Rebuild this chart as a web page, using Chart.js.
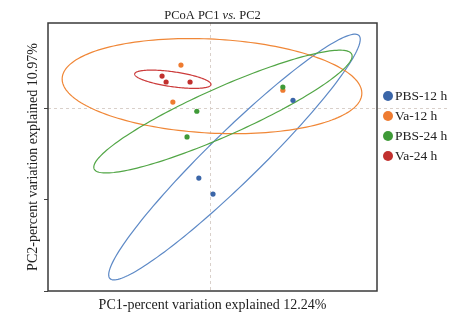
<!DOCTYPE html>
<html>
<head>
<meta charset="utf-8">
<script src="https://cdn.jsdelivr.net/npm/chart.js@4/dist/chart.umd.min.js"></script>
<style>
  body { margin: 0; background: #fff; }
  #wrap { position: relative; width: 455px; height: 319px; }
  #legend { position: absolute; left: 383px; top: 88px; font: 13.5px "Liberation Serif", serif; color: #222; }
  #legend div { height: 20px; line-height: 16px; white-space: nowrap; }
  #legend span.dot { display: inline-block; width: 10px; height: 10px; border-radius: 50%; vertical-align: -1px; margin-right: 2px; }
</style>
</head>
<body>
<div id="wrap">
  <canvas id="pcoa" width="455" height="319"></canvas>
  <div id="legend"></div>
</div>
<script>
// groups and colours
const groups = ["PBS-12 h", "Va-12 h", "PBS-24 h", "Va-24 h"];
const dotColors = ["#3b66a8", "#ee7b30", "#3f9a38", "#c1302e"];
const ringColors = ["#5d89c6", "#f08737", "#52a646", "#cc3b3b"];

// sample scores (PC1, PC2)
const pbs12X = [0.246, -0.033, 0.009];
const pbs12Y = [0.017, -0.153, -0.188];
const va12X = [-0.086, -0.110, 0.216];
const va12Y = [0.094, 0.013, 0.039];
const pbs24X = [-0.039, -0.068, 0.216];
const pbs24Y = [-0.007, -0.063, 0.046];
const va24X = [-0.142, -0.130, -0.059];
const va24Y = [0.070, 0.057, 0.057];

// confidence ellipses: centre and two half-axis vectors, in PC units
const ellipseCX = [0.0726, 0.006, 0.0385, -0.110];
const ellipseCY = [-0.1071, 0.048, -0.0077, 0.063];
const ellipseUX = [0.369, 0.444, 0.3817, 0.113];
const ellipseUY = [0.2657, -0.0172, 0.1254, -0.0117];
const ellipseVX = [-0.0528, 0.0073, -0.0289, 0.0031];
const ellipseVY = [0.0399, 0.1026, 0.0479, 0.0162];

const yTicks = [-0.4, -0.2, 0];

const xsAll = [pbs12X, va12X, pbs24X, va24X];
const ysAll = [pbs12Y, va12Y, pbs24Y, va24Y];

const datasets = groups.map((g, i) => ({
  label: g,
  data: xsAll[i].map((x, j) => ({ x: x, y: ysAll[i][j] })),
  backgroundColor: dotColors[i],
  borderWidth: 0,
  pointRadius: 2.6,
  pointHoverRadius: 2.6,
  order: i === 2 ? -1 : i
}));

const serif = '"Liberation Serif", "Times New Roman", serif';

const decor = {
  id: "decor",
  beforeDatasetsDraw(chart) {
    const { ctx, chartArea: a, scales } = chart;
    const xs = scales.x, ys = scales.y;
    ctx.save();
    // dashed zero lines
    ctx.strokeStyle = "#d9d0ca";
    ctx.lineWidth = 1;
    ctx.setLineDash([3, 3]);
    const x0 = Math.round(xs.getPixelForValue(0)) + 0.5;
    const y0 = Math.round(ys.getPixelForValue(0)) + 0.5;
    ctx.beginPath();
    ctx.moveTo(x0, a.top); ctx.lineTo(x0, a.bottom);
    ctx.moveTo(a.left, y0); ctx.lineTo(447, y0);
    ctx.stroke();
    ctx.setLineDash([]);
    // ellipses
    ctx.beginPath();
    ctx.rect(a.left, a.top, a.right - a.left, a.bottom - a.top);
    ctx.clip();
    ctx.lineWidth = 1.2;
    for (let i = 0; i < groups.length; i++) {
      ctx.strokeStyle = ringColors[i];
      ctx.beginPath();
      for (let k = 0; k <= 180; k++) {
        const t = k / 180 * Math.PI * 2;
        const vx = ellipseCX[i] + ellipseUX[i] * Math.cos(t) + ellipseVX[i] * Math.sin(t);
        const vy = ellipseCY[i] + ellipseUY[i] * Math.cos(t) + ellipseVY[i] * Math.sin(t);
        const px = xs.getPixelForValue(vx), py = ys.getPixelForValue(vy);
        if (k === 0) ctx.moveTo(px, py); else ctx.lineTo(px, py);
      }
      ctx.closePath();
      ctx.stroke();
    }
    ctx.restore();
  },
  afterDraw(chart) {
    const { ctx, chartArea: a } = chart;
    ctx.save();
    ctx.strokeStyle = "#3a3a3a";
    ctx.lineWidth = 1.5;
    ctx.strokeRect(a.left, a.top, a.right - a.left, a.bottom - a.top);
    // title with italic "vs."
    const parts = [["PCoA PC1 ", ""], ["vs.", "italic "], [" PC2", ""]];
    let total = 0;
    parts.forEach(p => { ctx.font = p[1] + "12.5px " + serif; total += ctx.measureText(p[0]).width; });
    let x = (a.left + a.right) / 2 - total / 2;
    ctx.fillStyle = "#222";
    ctx.textBaseline = "alphabetic";
    parts.forEach(p => {
      ctx.font = p[1] + "12.5px " + serif;
      ctx.fillText(p[0], x, 18.5);
      x += ctx.measureText(p[0]).width;
    });
    ctx.restore();
  }
};

new Chart(document.getElementById("pcoa"), {
  type: "scatter",
  data: { datasets: datasets },
  options: {
    responsive: false,
    animation: false,
    events: [],
    layout: { padding: { left: 0, right: 78, top: 23, bottom: 0 } },
    plugins: { legend: { display: false }, tooltip: { enabled: false }, title: { display: false } },
    scales: {
      x: {
        min: -0.48, max: 0.495,
        ticks: { display: false },
        grid: { display: false, drawTicks: false },
        border: { display: false },
        title: {
          display: true,
          text: "PC1-percent variation explained 12.24%",
          color: "#222",
          font: { family: serif, size: 14 },
          padding: { top: 5.6, bottom: 5.6 }
        }
      },
      y: {
        min: -0.4, max: 0.186,
        afterBuildTicks: s => { s.ticks = yTicks.map(v => ({ value: v })); },
        ticks: { display: false },
        grid: { display: true, drawOnChartArea: false, drawTicks: true, tickLength: 4, tickColor: "#444", tickWidth: 1 },
        border: { display: false },
        title: {
          display: true,
          text: "PC2-percent variation explained 10.97%",
          color: "#222",
          font: { family: serif, size: 14 },
          padding: { top: 24.6, bottom: 2.6 }
        }
      }
    }
  },
  plugins: [decor]
});

const legend = document.getElementById("legend");
groups.forEach((g, i) => {
  const row = document.createElement("div");
  row.innerHTML = `<span class="dot" style="background:${dotColors[i]}"></span>${g}`;
  legend.appendChild(row);
});
</script>
</body>
</html>
